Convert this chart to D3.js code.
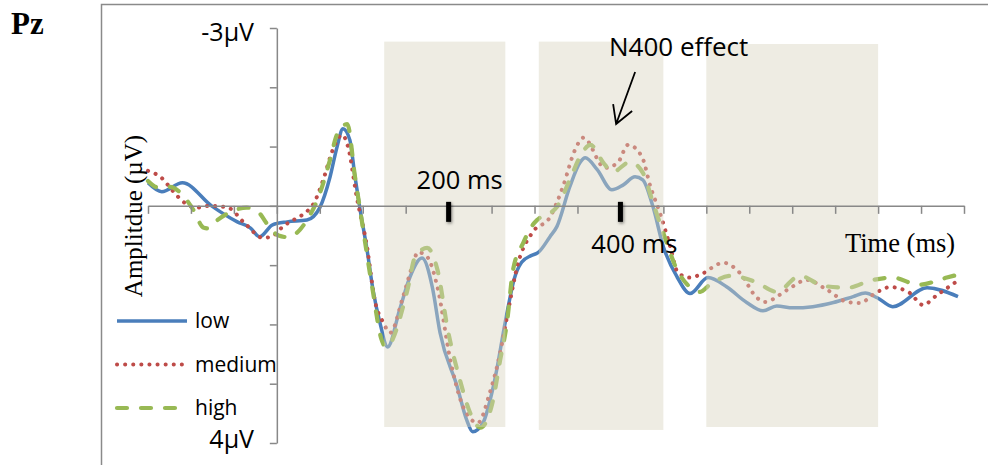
<!DOCTYPE html>
<html>
<head>
<meta charset="utf-8">
<title>Pz - ERP amplitude</title>
<script src="https://d3js.org/d3.v7.min.js"></script>
<style>
  body { margin: 0; background: #fff; }
  .sans { font-family: "Open Sans", sans-serif; }
  .serif { font-family: "Liberation Serif", "Times New Roman", serif; }
  .axis path, .axis line { stroke: #888; stroke-width: 1.5; fill: none; }
</style>
</head>
<body>
<svg width="988" height="465"></svg>
<script>
// waveforms at Pz, [time (ms), amplitude (µV)] - negative is up
var lowData = [[-150,-0.39],[-134,-0.24],[-110,-0.39],[-76,0],[-46,0.27],[-31,0.37],[-20,0.52],[-5,0.32],
  [12,0.27],[35,0.24],[50,0.03],[62,-0.49],[70,-0.99],[77,-1.30],[85,-1.11],[91,-0.49],[97,0.07],[105,0.74],
  [112,1.42],[120,1.97],[129,2.38],[143,1.75],[155,1.20],[169,0.88],[181,1.37],[190,2.14],[210,3.05],[221,3.61],
  [228,3.81],[240,3.66],[252,3.05],[268,1.80],[276,1.25],[285,0.95],[296,0.84],[304,0.79],[318,0.52],[326,0.35],
  [341,-0.32],[353,-0.73],[359,-0.81],[373,-0.61],[390,-0.27],[403,-0.35],[417,-0.49],[426,-0.44],[438,0.02],
  [450,0.69],[466,1.20],[481,1.48],[502,1.21],[524,1.37],[547,1.63],[566,1.77],[582,1.69],[601,1.72],[624,1.70],
  [648,1.63],[671,1.53],[685,1.47],[699,1.55],[717,1.70],[757,1.38],[793,1.53]];
var mediumData = [[-150,-0.59],[-134,-0.47],[-121,-0.25],[-109,-0.07],[-93,0.03],[-78,0],[-57,0.03],[-37,0.30],
  [-16,0.54],[-5,0.51],[7,0.35],[24,0.20],[33,0.12],[44,-0.07],[54,-0.44],[65,-0.94],[76,-1.20],[83,-0.99],
  [93,-0.15],[105,0.69],[114,1.59],[124,1.97],[132,2.14],[147,1.53],[159,0.96],[164,0.78],[175,0.86],[187,1.37],
  [202,2.60],[217,3.39],[234,3.66],[248,3.15],[260,2.48],[268,1.87],[281,0.96],[298,0.44],[318,0.19],[333,-0.32],
  [347,-0.94],[357,-1.15],[382,-0.64],[397,-0.73],[409,-1.03],[425,-0.83],[435,-0.32],[446,0.12],[458,0.69],
  [467,1.13],[481,1.21],[493,1.16],[520,0.96],[539,1.13],[559,1.55],[568,1.62],[594,1.42],[617,1.25],[641,1.42],
  [664,1.62],[679,1.64],[694,1.50],[714,1.37],[737,1.47],[752,1.67],[769,1.50],[793,1.26]];
var highData = [[-150,-0.42],[-138,-0.31],[-125,-0.32],[-112,-0.22],[-98,0.05],[-85,0.37],[-80,0.38],[-70,0.25],
  [-52,0.09],[-35,0.03],[-22,0.10],[-8,0.37],[2,0.50],[14,0.53],[27,0.40],[35,0.24],[48,-0.13],[62,-0.78],
  [70,-1.20],[82,-1.38],[91,-0.49],[97,0.07],[111,1.37],[122,2.26],[127,2.38],[152,1.42],[161,0.86],[175,0.71],
  [187,1.08],[199,2.09],[213,2.93],[225,3.49],[237,3.74],[251,3.32],[260,2.60],[268,1.96],[275,1.08],[287,0.62],
  [298,0.32],[303,0.24],[326,0.02],[341,-0.44],[353,-0.83],[365,-1.03],[380,-0.73],[391,-0.57],[411,-0.74],
  [426,-0.56],[438,-0.05],[450,0.46],[466,1.08],[478,1.33],[493,1.45],[504,1.33],[528,1.18],[557,1.28],[582,1.45],
  [609,1.18],[636,1.35],[665,1.38],[691,1.26],[717,1.21],[747,1.33],[780,1.21],[793,1.16]];

var seriesNames = ["low", "medium", "high"];
var seriesColors = ["#4a7ebb", "#be4b48", "#98b954"];

// shaded analysis windows (ms) and their vertical extent (µV)
var windowStart = [125, 305, 500];
var windowEnd = [266, 450, 700];
var windowTop = [-2.77, -2.77, -2.73];
var windowBottom = [3.73, 3.78, 3.73];

var yTicks = [-3, -2, -1, 0, 1, 2, 3, 4];
var yTickLabels = {"-3": "-3µV", "4": "4µV"};
var xTicks = d3.range(-150, 801, 50);
var markerTimes = [200, 400];
var markerLabels = ["200 ms", "400 ms"];

var svg = d3.select("svg"),
    width = +svg.attr("width"),
    height = +svg.attr("height");

var x = d3.scaleLinear().domain([-150, 800]).range([148, 964]);
var y = d3.scaleLinear().domain([-3, 4]).range([28, 443]);

var defs = svg.append("defs");
var shadow = defs.append("filter").attr("id", "shadow")
    .attr("x", "-100%").attr("y", "-50%").attr("width", "300%").attr("height", "200%");
shadow.append("feDropShadow").attr("dx", 1).attr("dy", 1.5)
    .attr("stdDeviation", 1.5).attr("flood-color", "#000").attr("flood-opacity", 0.45);

// outer frame
svg.append("path")
    .attr("d", "M101.5," + height + "V4.5H" + width)
    .attr("fill", "none").attr("stroke", "#8a8a8a").attr("stroke-width", 1.5);

svg.append("text").attr("class", "serif")
    .attr("x", 11).attr("y", 34)
    .style("font-size", "31px").style("font-weight", "bold")
    .text("Pz");

// waveforms
var line = d3.line()
    .x(function(d) { return x(d[0]); })
    .y(function(d) { return y(d[1]); })
    .curve(d3.curveMonotoneX);

var dashes = [null, "0.1,8", "10,14"];
var widths = [3.5, 4, 4.2];
var caps = ["butt", "round", "round"];

[lowData, mediumData, highData].forEach(function(data, i) {
  svg.append("path")
      .datum(data)
      .attr("d", line)
      .attr("fill", "none")
      .attr("stroke", seriesColors[i])
      .attr("stroke-width", widths[i])
      .attr("stroke-linecap", caps[i])
      .attr("stroke-dasharray", dashes[i]);
});

// shaded windows, laid over the traces
svg.selectAll("rect.window")
    .data(windowStart)
    .enter()
    .append("rect")
    .attr("class", "window")
    .attr("x", function(d) { return x(d); })
    .attr("width", function(d, i) { return x(windowEnd[i]) - x(d); })
    .attr("y", function(d, i) { return y(windowTop[i]); })
    .attr("height", function(d, i) { return y(windowBottom[i]) - y(windowTop[i]); })
    .attr("fill", "#d9d5c1")
    .attr("fill-opacity", 0.45);

// axes
svg.append("g")
    .attr("class", "axis")
    .attr("transform", "translate(0," + y(0) + ")")
    .call(d3.axisBottom(x).tickValues(xTicks).tickSize(8).tickSizeOuter(0).tickFormat(""));

svg.append("g")
    .attr("class", "axis")
    .attr("transform", "translate(" + x(0) + ",0)")
    .call(d3.axisLeft(y).tickValues(yTicks).tickSize(7).tickSizeOuter(0).tickFormat(""));

svg.selectAll("text.ylab")
    .data(yTicks.filter(function(d) { return yTickLabels[d]; }))
    .enter()
    .append("text")
    .attr("class", "ylab sans")
    .attr("x", 254)
    .attr("y", function(d) { return y(d) + (d < 0 ? 13 : 5); })
    .attr("text-anchor", "end")
    .style("font-size", "25px")
    .text(function(d) { return yTickLabels[d]; });

// time markers
svg.selectAll("rect.marker")
    .data(markerTimes)
    .enter()
    .append("rect")
    .attr("class", "marker")
    .attr("x", function(d) { return x(d) - 2.5; })
    .attr("y", y(0) - 4)
    .attr("width", 5)
    .attr("height", 20)
    .attr("fill", "#000")
    .attr("filter", "url(#shadow)");

svg.selectAll("text.mlab")
    .data(markerTimes)
    .enter()
    .append("text")
    .attr("class", "mlab sans")
    .attr("x", function(d, i) { return x(d) + (i === 0 ? 11 : 14); })
    .attr("y", function(d, i) { return i === 0 ? y(0) - 17 : y(0) + 47; })
    .attr("text-anchor", "middle")
    .style("font-size", "25.5px")
    .text(function(d, i) { return markerLabels[i]; });

// N400 annotation
var tip = [x(395), y(-1.38)];
svg.append("path")
    .attr("d", "M" + (tip[0] + 19) + "," + (tip[1] - 52) + "L" + tip[0] + "," + tip[1] +
               "M" + (tip[0] - 3) + "," + (tip[1] - 20) + "L" + tip[0] + "," + tip[1] +
               "L" + (tip[0] + 16) + "," + (tip[1] - 13))
    .attr("fill", "none").attr("stroke", "#000").attr("stroke-width", 1.8);

svg.append("text").attr("class", "sans")
    .attr("x", 609).attr("y", 56)
    .style("font-size", "26px")
    .text("N400 effect");

// axis titles
svg.append("text").attr("class", "serif")
    .attr("x", 845).attr("y", 252)
    .style("font-size", "26.5px")
    .text("Time (ms)");

svg.append("text").attr("class", "serif")
    .attr("transform", "translate(142,216) rotate(-90)")
    .attr("text-anchor", "middle")
    .style("font-size", "25px")
    .text("Amplitdue (µV)");

// legend
var legend = svg.selectAll("g.legend")
    .data(seriesNames)
    .enter()
    .append("g")
    .attr("class", "legend")
    .attr("transform", function(d, i) { return "translate(117," + (321 + i * 43.5) + ")"; });

legend.append("line")
    .attr("x1", 0).attr("x2", 70)
    .attr("stroke", function(d, i) { return seriesColors[i]; })
    .attr("stroke-width", function(d, i) { return widths[i]; })
    .attr("stroke-linecap", function(d, i) { return caps[i]; })
    .attr("stroke-dasharray", function(d, i) { return dashes[i]; });

legend.append("text")
    .attr("class", "sans")
    .attr("x", 78).attr("y", 7)
    .style("font-size", "21px")
    .text(function(d) { return d; });
</script>
</body>
</html>
